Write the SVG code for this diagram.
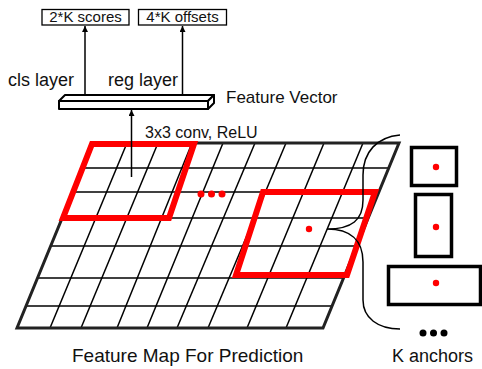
<svg xmlns="http://www.w3.org/2000/svg" width="482" height="369" viewBox="0 0 482 369">
<defs>
<style>
text{font-family:"Liberation Sans",Arial,sans-serif;fill:#111}
.grid{stroke:#000;stroke-width:1.5;fill:none}
.border{stroke:#222;stroke-width:3;fill:none;stroke-linejoin:miter}
.red{stroke:#ff0000;stroke-width:6;fill:none;stroke-linejoin:miter}
.anchor{stroke:#000;stroke-width:3.5;fill:#fff}
.conn{stroke:#000;stroke-width:1.5;fill:none}
.lbl{stroke:#000;stroke-width:1.3;fill:#fff}
</style>
<marker id="arr" viewBox="0 0 10 10" refX="10" refY="5" markerWidth="6" markerHeight="6" markerUnits="userSpaceOnUse" orient="auto">
<path d="M0,0 L10,5 L0,10 z" fill="#000"/>
</marker>
</defs>
<rect width="482" height="369" fill="#fff"/>

<g id="feature-map">
<g class="grid">
<line x1="127" y1="143" x2="50" y2="328"/>
<line x1="158" y1="143" x2="81" y2="328"/>
<line x1="192" y1="143" x2="117" y2="328"/>
<line x1="223" y1="143" x2="147" y2="328"/>
<line x1="255" y1="143" x2="177" y2="328"/>
<line x1="286" y1="143" x2="208" y2="328"/>
<line x1="324" y1="143" x2="247" y2="328"/>
<line x1="363" y1="143" x2="286" y2="328"/>
<line x1="82.7" y1="168" x2="388.7" y2="168"/>
<line x1="72.9" y1="192" x2="378.9" y2="192"/>
<line x1="62.2" y1="218" x2="368.2" y2="218"/>
<line x1="50.7" y1="246" x2="356.7" y2="246"/>
<line x1="37.5" y1="278" x2="343.5" y2="278"/>
<line x1="26" y1="306" x2="332" y2="306"/>
</g>
<polygon class="border" points="93,143 399,143 323,328 17,328"/>
<polygon class="red" points="92,144 194,144 169,218 63,218"/>
<polygon class="red" points="263,192 375,192 347,275 236,275"/>
<circle cx="309" cy="229" r="3.2" fill="#ff0000"/>
<circle cx="201" cy="194" r="3.5" fill="#ff0000"/>
<circle cx="211.5" cy="194" r="3.5" fill="#ff0000"/>
<circle cx="222" cy="194" r="3.5" fill="#ff0000"/>
<text x="72" y="362" font-size="19">Feature Map For Prediction</text>
</g>

<g id="feature-vector">
<path d="M59,101 L65,95 L214,95 L208,101 Z" fill="#fff" stroke="#000" stroke-width="2" stroke-linejoin="round"/>
<path d="M208,101 L214,95 L214,103 L208,109 Z" fill="#fff" stroke="#000" stroke-width="2" stroke-linejoin="round"/>
<rect x="59" y="101" width="149" height="8" fill="#fff" stroke="#000" stroke-width="2" stroke-linejoin="round"/>
<text x="226" y="103" font-size="17">Feature Vector</text>
</g>

<g id="scores">
<rect class="lbl" x="42" y="9.5" width="87" height="15.5"/>
<text x="85.5" y="22" font-size="15" text-anchor="middle">2*K scores</text>
</g>
<g id="offsets">
<rect class="lbl" x="138.5" y="9.5" width="88" height="15.5"/>
<text x="182.5" y="22" font-size="15" text-anchor="middle">4*K offsets</text>
</g>

<g id="anchors">
<rect class="anchor" x="411.5" y="147.5" width="45" height="38"/>
<rect class="anchor" x="415.5" y="194.5" width="36" height="62"/>
<rect class="anchor" x="388.5" y="266.5" width="92" height="38"/>
<circle cx="436" cy="167" r="3.2" fill="#ff0000"/>
<circle cx="436" cy="227" r="3.2" fill="#ff0000"/>
<circle cx="436" cy="283" r="3.2" fill="#ff0000"/>
<circle cx="423" cy="333" r="3.5" fill="#000"/>
<circle cx="433.5" cy="333" r="3.5" fill="#000"/>
<circle cx="444" cy="333" r="3.5" fill="#000"/>
<text x="392" y="362" font-size="18">K anchors</text>
</g>

<g id="connectors">
<line class="conn" x1="131.5" y1="177" x2="131.5" y2="110" marker-end="url(#arr)"/>
<line class="conn" x1="85" y1="95" x2="85" y2="26" marker-end="url(#arr)"/>
<line class="conn" x1="182.5" y1="95" x2="182.5" y2="26" marker-end="url(#arr)"/>
<path class="conn" d="M400,135 C377,137 363,152 363,175 L363,200 C363,220 352,229 327,229 C350,229 363,240 363,262 L363,300 C363,318 378,329 400,329"/>
<text x="145" y="138" font-size="16">3x3 conv, ReLU</text>
<text x="8" y="86" font-size="18">cls layer</text>
<text x="108" y="86" font-size="18">reg layer</text>
</g>
</svg>
